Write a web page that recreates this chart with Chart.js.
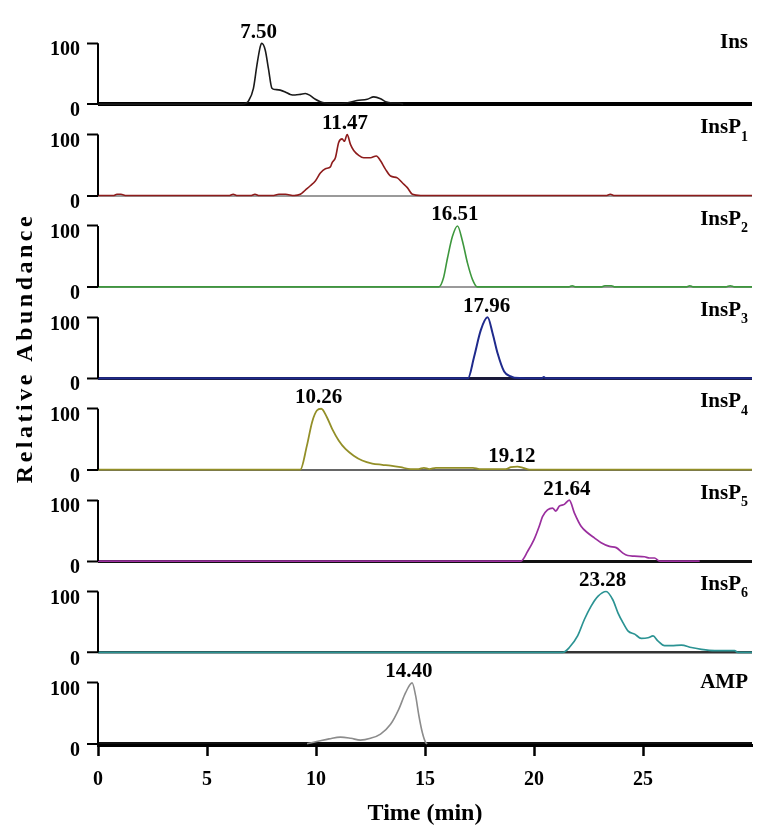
<!DOCTYPE html>
<html>
<head>
<meta charset="utf-8">
<script src="https://cdn.jsdelivr.net/npm/chart.js@4.4.0/dist/chart.umd.min.js"></script>
<style>
  html, body { margin: 0; padding: 0; background: #fff; }
</style>
</head>
<body>
<canvas id="chrom" width="760" height="835"></canvas>
<script>
// Panel labels (right side), with subscripts
const panelNames = ['Ins', 'InsP', 'InsP', 'InsP', 'InsP', 'InsP', 'InsP', 'AMP'];
const panelSubs = ['', '1', '2', '3', '4', '5', '6', ''];
const xTicks = [0, 5, 10, 15, 20, 25];
const yTicks = [0, 100];

// Traces: retention time (min) and relative abundance (%)
const insTime = [0, 6.6, 6.75, 6.9, 7.13, 7.29, 7.44, 7.51, 7.67, 7.82, 7.98, 8.13, 8.36, 8.59, 8.82, 9.04, 9.28, 9.51, 9.74, 9.97, 10.2, 10.43, 10.9, 11.4, 11.88, 12.35, 12.65, 12.96, 13.19, 13.5, 13.8, 14.0];
const insAbund = [0, 0, 1, 5, 26, 64, 94, 100, 89, 58, 26, 24, 23, 20, 16, 15, 16, 17.5, 14, 8, 4, 2, 1, 2, 6, 8, 12, 9, 4, 2, 2, 0];

const p1Time = [0, 0.7, 0.87, 1.05, 1.3, 6.0, 6.2, 6.4, 7.0, 7.2, 7.4, 8.0, 8.3, 8.6, 9.0, 9.28, 9.51, 9.74, 9.97, 10.2, 10.43, 10.66, 10.74, 10.89, 11.04, 11.2, 11.3, 11.43, 11.58, 11.73, 11.96, 12.19, 12.5, 12.77, 12.96, 13.19, 13.42, 13.73, 13.96, 14.19, 14.42, 14.8, 23.3, 23.5, 23.7, 30];
const p1Abund = [0, 0, 2, 2, 0, 0, 2, 0, 0, 2, 0, 0, 2, 2, 0, 2, 9, 16, 24, 37, 44, 47, 54, 62, 87, 93, 89, 100, 84, 74, 66, 62, 62, 65, 57, 43, 32, 29, 21, 13, 2, 0, 0, 2, 0, 0];

const p2Time = [0, 15.64, 15.85, 16.03, 16.26, 16.49, 16.72, 16.95, 17.18, 17.4, 21.6, 21.75, 21.9, 23.1, 23.25, 23.55, 23.7, 27.0, 27.15, 27.3, 28.8, 29.0, 29.2, 30];
const p2Abund = [0, 0, 15, 47, 83, 100, 75, 39, 12, 0, 0, 2, 0, 0, 2, 2, 0, 0, 2, 0, 0, 2, 0, 0];

const p3Time = [0, 16.97, 17.25, 17.56, 17.87, 18.1, 18.33, 18.63, 18.94, 19.1, 20.35, 20.45, 20.55, 30];
const p3Abund = [0, 0, 35, 79, 100, 74, 41, 11, 3, 1, 0, 2, 0, 0];

const p4Time = [0, 9.28, 9.58, 9.82, 10.04, 10.24, 10.5, 10.74, 11.04, 11.35, 11.73, 12.12, 12.58, 13.04, 13.42, 13.88, 14.34, 14.7, 14.95, 15.2, 15.5, 17.2, 17.5, 18.7, 18.94, 19.24, 19.5, 19.8, 30];
const p4Abund = [0, 0, 39, 78, 97, 100, 86, 67, 48, 34, 23, 15, 10, 8, 6.5, 4, 1, 1, 3, 1, 3, 3, 1, 1, 4, 5, 3, 0, 0];

const p5Time = [0, 19.4, 19.71, 20.0, 20.24, 20.39, 20.62, 20.85, 21.0, 21.16, 21.39, 21.62, 21.85, 22.16, 22.47, 22.77, 23.08, 23.46, 23.77, 24.08, 24.3, 24.6, 25.07, 25.3, 25.53, 25.76, 27.6];
const p5Abund = [0, 0, 16, 35, 57, 73, 84, 87, 82, 90, 93, 100, 79, 57, 46, 38, 30, 24, 22, 13, 9, 8, 7, 5, 5, 0, 0];

const p6Time = [0, 21.32, 21.62, 22.0, 22.31, 22.62, 22.93, 23.31, 23.62, 23.85, 24.08, 24.32, 24.62, 24.92, 25.23, 25.46, 25.68, 25.99, 26.3, 26.76, 27.22, 27.68, 28.29, 29.2, 29.35, 30];
const p6Abund = [0, 0, 8, 27, 54, 76, 92, 100, 86, 65, 49, 35, 30, 23, 24, 27, 19, 11, 11, 12, 8, 5, 3, 3, 0, 0];

const ampTime = [9.59, 10.2, 10.6, 11.12, 11.6, 12.04, 12.5, 12.96, 13.42, 13.8, 14.11, 14.41, 14.57, 14.72, 14.88, 15.03, 15.1];
const ampAbund = [0, 5, 8, 11, 9, 6, 9, 16, 32, 57, 84, 100, 79, 46, 18, 2, 0];

// Peak annotations: panel index, retention time, height of the peak
const peakPanel = [0, 1, 2, 3, 4, 4, 5, 6, 7];
const peakTime = [7.50, 11.47, 16.51, 17.96, 10.26, 19.12, 21.64, 23.28, 14.40];
const peakTop = [100, 100, 100, 100, 100, 4, 100, 100, 100];

// styles
const traceColors = ['#1a1a1a', '#8e1c1c', '#3d973d', '#1f2a8c', '#938f28', '#9a2f9e', '#2b9393', '#8c8c8c'];
const traceWidths = [1.6, 1.6, 1.6, 2, 1.8, 1.7, 1.7, 1.6];
const baseColors = ['#000', '#9a9a9a', '#9a9a9a', '#1a1a3a', '#666', '#111', '#333', '#111'];
const baseWidths = [4, 2, 2, 3, 2, 3, 2.5, 4];

const serif = "'Liberation Serif', 'Times New Roman', serif";
const traces = [
    [insTime, insAbund], [p1Time, p1Abund], [p2Time, p2Abund], [p3Time, p3Abund],
    [p4Time, p4Abund], [p5Time, p5Abund], [p6Time, p6Abund], [ampTime, ampAbund]
];

const datasets = traces.map(([t, v], i) => ({
    label: panelNames[i] + panelSubs[i],
    yAxisID: 'y' + i,
    data: t.map((x, k) => ({ x: x, y: v[k] })),
    borderColor: traceColors[i],
    borderWidth: traceWidths[i],
    pointRadius: 0,
    cubicInterpolationMode: 'monotone',
    fill: false
}));

const scales = {
    x: {
        type: 'linear',
        position: 'bottom',
        min: 0,
        max: 30,
        afterBuildTicks: s => { s.ticks = xTicks.map(v => ({ value: v })); },
        afterFit: s => { s.height = 90; },
        grid: { display: true, drawOnChartArea: false, tickLength: 11, tickWidth: 2.5, tickColor: '#000' },
        border: { display: true, color: '#000', width: 3 },
        ticks: { color: '#000', padding: 12, maxRotation: 0, font: { family: serif, size: 20, weight: 'bold' } },
        title: {
            display: true,
            text: 'Time (min)',
            color: '#000',
            font: { family: serif, size: 24, weight: 'bold' },
            padding: { top: 4, bottom: 7 }
        }
    }
};

// stacked y axes; later axes are placed higher, so add them bottom panel first
for (let i = panelNames.length - 1; i >= 0; i--) {
    const last = i === panelNames.length - 1;
    scales['y' + i] = {
        type: 'linear',
        position: 'left',
        stack: 'panels',
        stackWeight: last ? 127 / 150 : 1,
        min: last ? -2 : -25,
        max: 125,
        afterBuildTicks: s => { s.ticks = yTicks.map(v => ({ value: v })); },
        afterFit: s => { s.width = 98; },
        grid: {
            drawOnChartArea: true,
            color: c => (c.tick && c.tick.value === 0) ? baseColors[i] : 'rgba(0,0,0,0)',
            lineWidth: c => (c.tick && c.tick.value === 0) ? baseWidths[i] : 1,
            tickLength: 11,
            tickWidth: 2,
            tickColor: '#000'
        },
        border: { display: false },
        ticks: { color: '#000', padding: 7, labelOffset: 7, font: { family: serif, size: 20, weight: 'bold' } }
    };
}

// axis lines, compound names, peak times and the shared y title
const panelDecor = {
    id: 'panelDecor',
    afterDatasetsDraw(chart) {
        const ctx = chart.ctx;
        const area = chart.chartArea;
        const xs = chart.scales.x;
        ctx.save();
        ctx.fillStyle = '#000';
        panelNames.forEach((name, i) => {
            const ys = chart.scales['y' + i];
            ctx.strokeStyle = '#000';
            ctx.lineWidth = 2;
            ctx.beginPath();
            ctx.moveTo(area.left, ys.getPixelForValue(100));
            ctx.lineTo(area.left, ys.getPixelForValue(0));
            ctx.stroke();

            // names with a subscript sit a little higher
            const yLab = ys.getPixelForValue(panelSubs[i] ? 111 : 101);
            const right = area.right - 4;
            ctx.textBaseline = 'middle';
            ctx.textAlign = 'right';
            let subW = 0;
            if (panelSubs[i]) {
                ctx.font = 'bold 14px ' + serif;
                subW = ctx.measureText(panelSubs[i]).width;
                ctx.fillText(panelSubs[i], right, yLab + 9);
            }
            ctx.font = 'bold 21px ' + serif;
            ctx.fillText(name, right - subW, yLab);
        });

        ctx.font = 'bold 21px ' + serif;
        ctx.textAlign = 'center';
        ctx.textBaseline = 'middle';
        peakTime.forEach((t, k) => {
            const ys = chart.scales['y' + peakPanel[k]];
            ctx.fillText(t.toFixed(2), xs.getPixelForValue(t) - 3, ys.getPixelForValue(peakTop[k]) - 11);
        });

        ctx.translate(26, 348);
        ctx.rotate(-Math.PI / 2);
        ctx.font = 'bold 24px ' + serif;
        if ('letterSpacing' in ctx) ctx.letterSpacing = '3.5px';
        ctx.fillText('Relative Abundance', 0, 0);
        ctx.restore();
    }
};

new Chart(document.getElementById('chrom'), {
    type: 'line',
    data: { datasets: datasets },
    options: {
        responsive: false,
        animation: false,
        layout: { padding: { top: 28, right: 8, left: 0, bottom: 0 } },
        plugins: { legend: { display: false }, tooltip: { enabled: false } },
        scales: scales
    },
    plugins: [panelDecor]
});
</script>
</body>
</html>
